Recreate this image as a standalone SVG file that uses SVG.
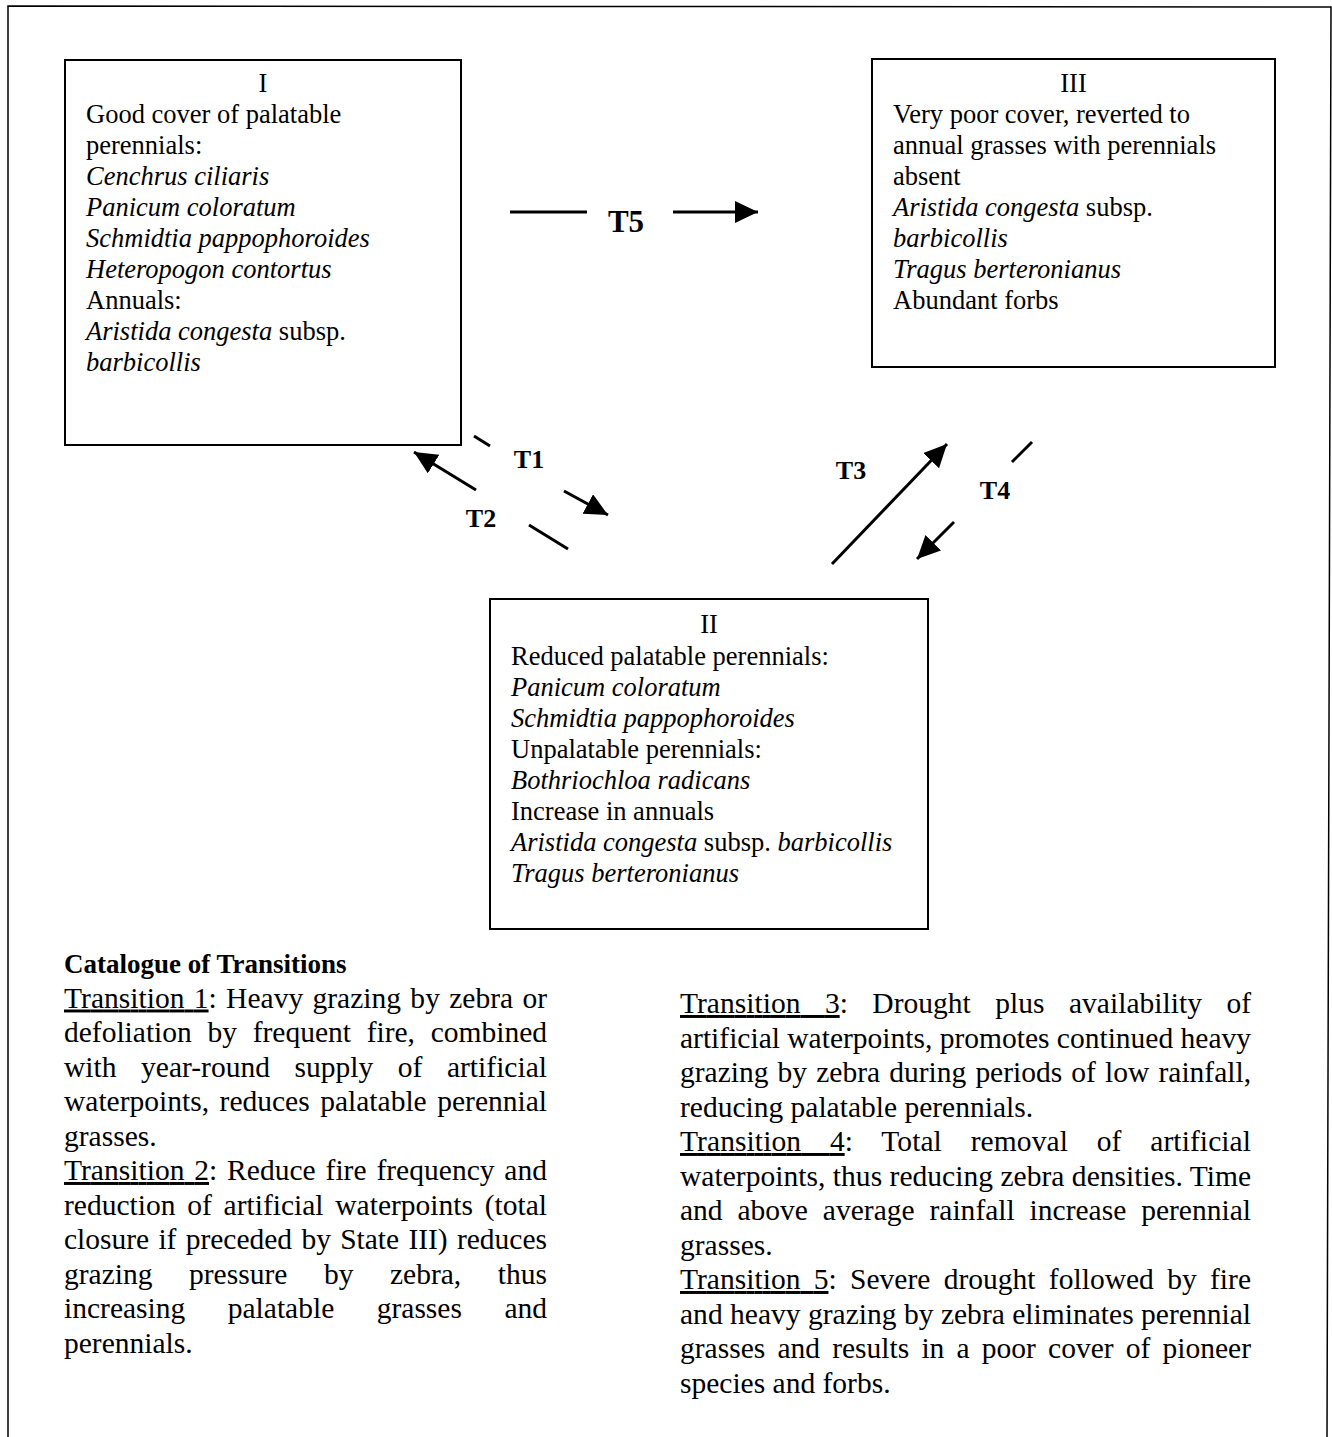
<svg xmlns="http://www.w3.org/2000/svg" width="1332" height="1437" viewBox="0 0 1332 1437">
<defs>
<style>
.box{fill:none;stroke:#000;stroke-width:2}
.bt{font-family:"Liberation Serif","Times New Roman",serif;font-size:26.5px;fill:#000}
.it{font-style:italic}
.lab{font-family:"Liberation Serif","Times New Roman",serif;font-weight:bold;font-size:26px;fill:#000}
.con{stroke:#000;stroke-width:3;fill:none}
.arr{marker-end:url(#ah)}
.ct{font-family:"Liberation Serif","Times New Roman",serif;font-size:29.5px;fill:#000}
.u{text-decoration:underline}
</style>
<marker id="ah" markerUnits="userSpaceOnUse" markerWidth="26" markerHeight="24" refX="23" refY="11" orient="auto" viewBox="0 0 26 24">
<path d="M0,0 L23,11 L0,22 z" fill="#000"/>
</marker>
</defs>
<rect width="1332" height="1437" fill="#fff"/>
<path d="M8,1437 L8,6 L1331,7 L1327,1437" fill="none" stroke="#000" stroke-width="1.5"/>

<g id="state-I">
<rect class="box" x="65" y="60" width="396" height="385"/>
<text class="bt" x="263" y="92" text-anchor="middle">I</text>
<text class="bt" x="86" y="123">Good cover of palatable</text>
<text class="bt" x="86" y="154">perennials:</text>
<text class="bt it" x="86" y="185">Cenchrus ciliaris</text>
<text class="bt it" x="86" y="216">Panicum coloratum</text>
<text class="bt it" x="86" y="247">Schmidtia pappophoroides</text>
<text class="bt it" x="86" y="278">Heteropogon contortus</text>
<text class="bt" x="86" y="309">Annuals:</text>
<text class="bt" x="86" y="340"><tspan class="it">Aristida congesta</tspan> subsp.</text>
<text class="bt it" x="86" y="371">barbicollis</text>
</g>

<g id="state-III">
<rect class="box" x="872" y="59" width="403" height="308"/>
<text class="bt" x="1073.5" y="92" text-anchor="middle">III</text>
<text class="bt" x="893" y="123">Very poor cover, reverted to</text>
<text class="bt" x="893" y="154">annual grasses with perennials</text>
<text class="bt" x="893" y="185">absent</text>
<text class="bt" x="893" y="216"><tspan class="it">Aristida congesta</tspan> subsp.</text>
<text class="bt it" x="893" y="247">barbicollis</text>
<text class="bt it" x="893" y="278">Tragus berteronianus</text>
<text class="bt" x="893" y="309">Abundant forbs</text>
</g>

<g id="state-II">
<rect class="box" x="490" y="599" width="438" height="330"/>
<text class="bt" x="709" y="633" text-anchor="middle">II</text>
<text class="bt" x="511" y="665">Reduced palatable perennials:</text>
<text class="bt it" x="511" y="696">Panicum coloratum</text>
<text class="bt it" x="511" y="727">Schmidtia pappophoroides</text>
<text class="bt" x="511" y="758">Unpalatable perennials:</text>
<text class="bt it" x="511" y="789">Bothriochloa radicans</text>
<text class="bt" x="511" y="820">Increase in annuals</text>
<text class="bt" x="511" y="851"><tspan class="it">Aristida congesta</tspan> subsp. <tspan class="it">barbicollis</tspan></text>
<text class="bt it" x="511" y="882">Tragus berteronianus</text>
</g>

<g id="connectors">
<line class="con" x1="510" y1="212" x2="587" y2="212"/>
<line class="con arr" x1="673" y1="212" x2="758" y2="212"/>
<line class="con" x1="474" y1="436" x2="490" y2="446"/>
<line class="con arr" x1="564" y1="491" x2="608" y2="515"/>
<line class="con arr" x1="476" y1="490" x2="414" y2="452"/>
<line class="con" x1="529" y1="525" x2="568" y2="549"/>
<line class="con arr" x1="832" y1="564" x2="947" y2="444"/>
<line class="con" x1="1012" y1="462" x2="1032" y2="442"/>
<line class="con arr" x1="954" y1="522" x2="917" y2="559"/>
<text class="lab" x="626" y="232" text-anchor="middle" style="font-size:31px">T5</text>
<text class="lab" x="529" y="468" text-anchor="middle">T1</text>
<text class="lab" x="481" y="527" text-anchor="middle">T2</text>
<text class="lab" x="851" y="479" text-anchor="middle">T3</text>
<text class="lab" x="995" y="499" text-anchor="middle">T4</text>
</g>

<g id="catalogue">
<text class="ct" x="64" y="973" style="font-weight:bold;font-size:27px">Catalogue of Transitions</text>
<text class="ct" x="64" y="1007.5" textLength="483" lengthAdjust="spacing" word-spacing="1.8"><tspan class="u">Transition 1</tspan>: Heavy grazing by zebra or</text>
<text class="ct" x="64" y="1042" textLength="483" lengthAdjust="spacing" word-spacing="8.3">defoliation by frequent fire, combined</text>
<text class="ct" x="64" y="1076.5" textLength="483" lengthAdjust="spacing" word-spacing="17.1">with year-round supply of artificial</text>
<text class="ct" x="64" y="1111" textLength="483" lengthAdjust="spacing" word-spacing="3.2">waterpoints, reduces palatable perennial</text>
<text class="ct" x="64" y="1145.5">grasses.</text>
<text class="ct" x="64" y="1180" textLength="483" lengthAdjust="spacing" word-spacing="2.4"><tspan class="u">Transition 2</tspan>: Reduce fire frequency and</text>
<text class="ct" x="64" y="1214.5" textLength="483" lengthAdjust="spacing" word-spacing="4.4">reduction of artificial waterpoints (total</text>
<text class="ct" x="64" y="1249" textLength="483" lengthAdjust="spacing" word-spacing="1.9">closure if preceded by State III) reduces</text>
<text class="ct" x="64" y="1283.5" textLength="483" lengthAdjust="spacing" word-spacing="29.2">grazing pressure by zebra, thus</text>
<text class="ct" x="64" y="1318" textLength="483" lengthAdjust="spacing" word-spacing="35.1">increasing palatable grasses and</text>
<text class="ct" x="64" y="1352.5">perennials.</text>

<text class="ct" x="680" y="1013" textLength="571" lengthAdjust="spacing" word-spacing="17"><tspan class="u">Transition 3</tspan>: Drought plus availability of</text>
<text class="ct" x="680" y="1047.5" textLength="571" lengthAdjust="spacing">artificial waterpoints, promotes continued heavy</text>
<text class="ct" x="680" y="1082" textLength="571" lengthAdjust="spacing" word-spacing="1.8">grazing by zebra during periods of low rainfall,</text>
<text class="ct" x="680" y="1116.5">reducing palatable perennials.</text>
<text class="ct" x="680" y="1151" textLength="571" lengthAdjust="spacing" word-spacing="21.3"><tspan class="u">Transition 4</tspan>: Total removal of artificial</text>
<text class="ct" x="680" y="1185.5" textLength="571" lengthAdjust="spacing">waterpoints, thus reducing zebra densities. Time</text>
<text class="ct" x="680" y="1220" textLength="571" lengthAdjust="spacing" word-spacing="7.5">and above average rainfall increase perennial</text>
<text class="ct" x="680" y="1254.5">grasses.</text>
<text class="ct" x="680" y="1289" textLength="571" lengthAdjust="spacing" word-spacing="5.9"><tspan class="u">Transition 5</tspan>: Severe drought followed by fire</text>
<text class="ct" x="680" y="1323.5" textLength="571" lengthAdjust="spacing">and heavy grazing by zebra eliminates perennial</text>
<text class="ct" x="680" y="1358" textLength="571" lengthAdjust="spacing" word-spacing="4.8">grasses and results in a poor cover of pioneer</text>
<text class="ct" x="680" y="1392.5">species and forbs.</text>
</g>
</svg>
